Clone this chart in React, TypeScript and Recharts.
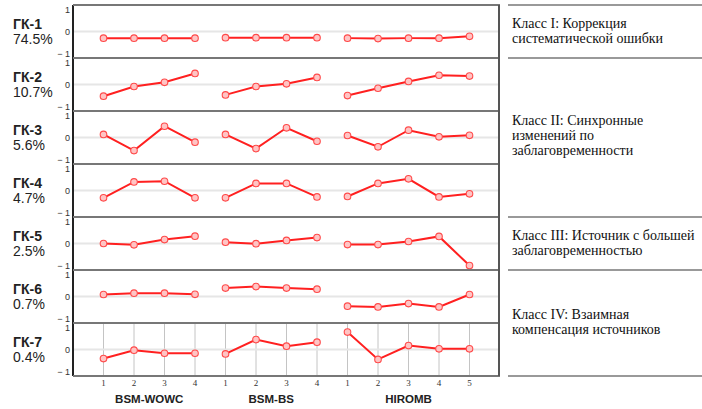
import React from "react";
import { CartesianGrid, Line, LineChart, ReferenceLine, XAxis, YAxis } from "recharts";

const positions = [1, 2, 3, 4, 5, 6, 7, 8, 9, 10, 11, 12, 13];
const tickLabels = ["1", "2", "3", "4", "1", "2", "3", "4", "1", "2", "3", "4", "5"];
const groupNames = ["BSM-WOWC", "BSM-BS", "HIROMB"];
const groupCenters = [2.5, 6.5, 11];
const pcNames = ["ГК-1", "ГК-2", "ГК-3", "ГК-4", "ГК-5", "ГК-6", "ГК-7"];
const pcShares = ["74.5%", "10.7%", "5.6%", "4.7%", "2.5%", "0.7%", "0.4%"];

const wowc = [
  [-0.3, -0.3, -0.3, -0.3],
  [-0.53, -0.09, 0.1, 0.5],
  [0.14, -0.59, 0.51, -0.21],
  [-0.33, 0.39, 0.42, -0.33],
  [0.0, -0.06, 0.18, 0.33],
  [0.09, 0.15, 0.15, 0.1],
  [-0.41, -0.03, -0.17, -0.17],
];
const bs = [
  [-0.28, -0.28, -0.28, -0.28],
  [-0.47, -0.09, 0.03, 0.32],
  [0.14, -0.5, 0.44, -0.17],
  [-0.33, 0.32, 0.32, -0.29],
  [0.06, -0.01, 0.14, 0.27],
  [0.38, 0.45, 0.38, 0.33],
  [-0.2, 0.45, 0.15, 0.33],
];
const hiromb = [
  [-0.3, -0.32, -0.3, -0.3, -0.22],
  [-0.5, -0.17, 0.14, 0.42, 0.38],
  [0.09, -0.42, 0.33, 0.03, 0.1],
  [-0.27, 0.32, 0.53, -0.29, -0.15],
  [-0.05, -0.05, 0.09, 0.32, -1.0],
  [-0.44, -0.47, -0.32, -0.47, 0.09],
  [0.79, -0.45, 0.18, 0.03, 0.03],
];

const classTexts = [
  { y: 28, lines: ["Класс I: Коррекция", "систематической ошибки"] },
  { y: 125, lines: ["Класс II: Синхронные", "изменений по", "заблаговременности"] },
  { y: 240, lines: ["Класс III: Источник с большей", "заблаговременностью"] },
  { y: 319, lines: ["Класс IV: Взаимная", "компенсация источников"] },
];

const ROW_H = 53;
const TOP = 5;
const RED = "#ff2020";
const dotStyle = { r: 3.3, stroke: "#ff4a4a", strokeWidth: 1.1, fill: "#ffc4c4" };

function Row({ r }: { r: number }) {
  const last = r === 6;
  const data = positions.map((x, i) => ({
    x,
    wowc: i < 4 ? wowc[r][i] : null,
    bs: i >= 4 && i < 8 ? bs[r][i - 4] : null,
    hiromb: i >= 8 ? hiromb[r][i - 8] : null,
  }));
  return (
    <div style={{ position: "absolute", left: 0, top: TOP + ROW_H * r }}>
      <LineChart
        width={500}
        height={last ? ROW_H + 38 : ROW_H}
        data={data}
        margin={{ top: 0, right: 0, bottom: 0, left: 0 }}
      >
        <CartesianGrid horizontal={false} stroke="#c4c4c4" />
        <ReferenceLine y={0} stroke="#e6e6e6" strokeWidth={2} />
        <XAxis
          dataKey="x"
          type="number"
          domain={[0, 14]}
          allowDataOverflow
          ticks={positions}
          interval={0}
          height={last ? 14 : 0}
          axisLine={false}
          tickLine={false}
          tickSize={0}
          tickMargin={4}
          tick={last ? { fontSize: 9, fill: "#333", fontFamily: "Liberation Serif" } : false}
          tickFormatter={(v: number) => tickLabels[v - 1]}
        />
        {last && (
          <XAxis
            xAxisId="g"
            dataKey="x"
            type="number"
            domain={[0, 14]}
            allowDataOverflow
            ticks={groupCenters}
            interval={0}
            height={24}
            axisLine={false}
            tickLine={false}
            tickSize={0}
            tickMargin={5}
            tick={{ fontSize: 11.5, fontWeight: 700, fill: "#222", fontFamily: "Arial, Liberation Sans" }}
            tickFormatter={(v: number) => groupNames[groupCenters.indexOf(v)]}
          />
        )}
        <YAxis
          type="number"
          domain={[-1.2, 1.2]}
          ticks={[-1, 0, 1]}
          interval={0}
          width={73}
          tickSize={0}
          tickMargin={3}
          tickLine={false}
          axisLine={{ stroke: "#222", strokeWidth: 2 }}
          tick={{ fontSize: 9, fill: "#333", fontFamily: "Arial, Liberation Sans" }}
          tickFormatter={(v: number) => (v === -1 ? "− 1" : String(v))}
        />
        {["wowc", "bs", "hiromb"].map((k) => (
          <Line
            key={k}
            dataKey={k}
            type="linear"
            stroke={RED}
            strokeWidth={2}
            dot={dotStyle}
            connectNulls={false}
            isAnimationActive={false}
          />
        ))}
      </LineChart>
    </div>
  );
}

export default function App() {
  const seps = [0, 1, 2, 3, 4, 5, 6, 7].map((k) => TOP + ROW_H * k);
  const rightSeps = [0, 1, 4, 5, 7].map((k) => TOP + ROW_H * k);
  return (
    <div style={{ position: "absolute", left: 0, top: 0, width: 702, height: 409, background: "#fff", overflow: "hidden" }}>
      {pcNames.map((_, r) => (
        <Row key={r} r={r} />
      ))}
      <svg width={702} height={409} style={{ position: "absolute", left: 0, top: 0, pointerEvents: "none" }}>
        {seps.map((y) => (
          <line key={y} x1={73} x2={500} y1={y} y2={y} stroke="#777" strokeWidth={2} />
        ))}
        <line x1={499} x2={499} y1={TOP} y2={TOP + ROW_H * 7} stroke="#555" strokeWidth={2} />
        {rightSeps.map((y) => (
          <line key={"r" + y} x1={508} x2={702} y1={y} y2={y} stroke="#999" strokeWidth={2} />
        ))}
        {pcNames.map((n, r) => (
          <g key={n} fontFamily="Arial, Liberation Sans" fill="#222">
            <text x={13} y={29 + ROW_H * r} fontSize={14} fontWeight={700}>
              {n}
            </text>
            <text x={13} y={44 + ROW_H * r} fontSize={14}>
              {pcShares[r]}
            </text>
          </g>
        ))}
        {classTexts.map((c) => (
          <text key={c.y} fontFamily="Liberation Serif" fontSize={14} fill="#111">
            {c.lines.map((l, i) => (
              <tspan key={i} x={512} y={c.y + 15 * i}>
                {l}
              </tspan>
            ))}
          </text>
        ))}
      </svg>
    </div>
  );
}
